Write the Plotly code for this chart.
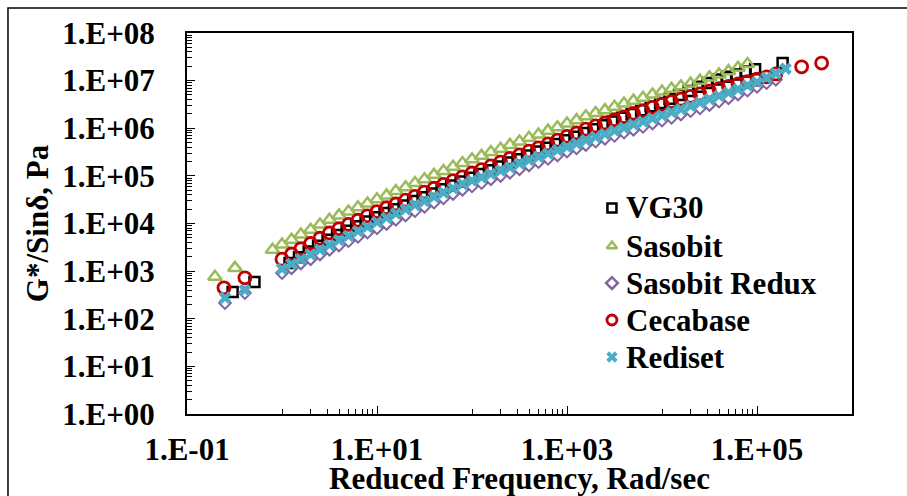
import plotly.graph_objects as go

# ---------------- data ----------------
vg30_x = [0.302, 0.513,
          1.2, 1.51, 1.91, 2.4, 3.02, 3.8, 4.79, 6.03, 7.59, 9.55,
          12.0, 15.1, 19.1, 24.0, 30.2, 38.0, 47.9, 60.3, 75.9, 95.5,
          120, 151, 191, 240, 302, 380, 479, 603, 759, 955,
          1200, 1510, 1910, 2400, 3020, 3800, 4790, 6030, 7590, 9550,
          1.2e4, 1.51e4, 1.91e4, 2.4e4, 3.02e4, 3.8e4, 4.79e4, 6.03e4, 7.59e4, 9.55e4,
          1.86e5]
vg30_y = [363, 589,
          1480, 1950, 2570, 3390, 4570, 5750, 7080, 8710, 11000, 13500,
          16600, 20000, 24000, 29500, 35500, 42700, 52500, 63100, 75900, 91200,
          110000, 132000, 158000, 191000, 224000, 269000, 324000, 389000, 468000, 562000,
          661000, 794000, 955000, 1.15e6, 1.38e6, 1.66e6, 2.0e6, 2.4e6, 2.88e6, 3.39e6,
          4.17e6, 5.01e6, 6.03e6, 7.41e6, 8.91e6, 1.05e7, 1.2e7, 1.35e7, 1.55e7, 1.74e7,
          2.34e7]

sasobit_x = [0.197, 0.32,
             0.794, 1.0, 1.26, 1.58, 2.0, 2.51, 3.16, 3.98, 5.01, 6.31, 7.94,
             10, 12.6, 15.8, 20, 25.1, 31.6, 39.8, 50.1, 63.1, 79.4,
             100, 126, 158, 200, 251, 316, 398, 501, 631, 794,
             1000, 1260, 1580, 2000, 2510, 3160, 3980, 5010, 6310, 7940,
             1e4, 1.26e4, 1.58e4, 2e4, 2.51e4, 3.16e4, 3.98e4, 5.01e4, 6.31e4, 7.94e4]
sasobit_y = [759, 1170,
             2820, 3630, 4570, 5890, 7410, 9550, 12000, 14800, 17800, 21900, 26300,
             32400, 38900, 47900, 57500, 70800, 85100, 105000, 126000, 155000, 186000,
             224000, 263000, 316000, 372000, 447000, 525000, 631000, 741000, 891000, 1.05e6,
             1.26e6, 1.48e6, 1.78e6, 2.09e6, 2.4e6, 2.82e6, 3.31e6, 3.8e6, 4.37e6, 5.13e6,
             5.89e6, 6.76e6, 7.59e6, 8.71e6, 1.0e7, 1.17e7, 1.35e7, 1.58e7, 1.86e7, 2.24e7]

redux_x = [0.251, 0.407,
           1.0, 1.26, 1.58, 2.0, 2.51, 3.16, 3.98, 5.01, 6.31, 7.94,
           10, 12.6, 15.8, 20, 25.1, 31.6, 39.8, 50.1, 63.1, 79.4,
           100, 126, 158, 200, 251, 316, 398, 501, 631, 794,
           1000, 1260, 1580, 2000, 2510, 3160, 3980, 5010, 6310, 7940,
           1e4, 1.26e4, 1.58e4, 2e4, 2.51e4, 3.16e4, 3.98e4, 5.01e4, 6.31e4, 7.94e4,
           1e5, 1.26e5, 1.58e5]
redux_y = [214, 347,
           912, 1150, 1450, 1780, 2240, 2820, 3470, 4270, 5250, 6460,
           7940, 9770, 12000, 14800, 18200, 22400, 27500, 33900, 41700, 51300,
           60300, 70800, 85100, 100000, 117000, 138000, 166000, 195000, 229000, 269000,
           324000, 380000, 447000, 525000, 603000, 692000, 813000, 933000, 1.07e6, 1.26e6,
           1.45e6, 1.66e6, 1.95e6, 2.29e6, 2.63e6, 3.09e6, 3.63e6, 4.27e6, 5.13e6, 6.17e6,
           7.41e6, 8.91e6, 1.05e7]

cecabase_x = [0.245, 0.407,
              1.0, 1.26, 1.58, 2.0, 2.51, 3.16, 3.98, 5.01, 6.31, 7.94,
              10, 12.6, 15.8, 20, 25.1, 31.6, 39.8, 50.1, 63.1, 79.4,
              100, 126, 158, 200, 251, 316, 398, 501, 631, 794,
              1000, 1260, 1580, 2000, 2510, 3160, 3980, 5010, 6310, 7940,
              1e4, 1.26e4, 1.58e4, 2e4, 2.51e4, 3.16e4, 3.98e4, 5.01e4, 6.31e4, 7.94e4,
              1e5, 1.26e5, 1.58e5, 2.95e5, 4.79e5]
cecabase_y = [447, 724,
              1780, 2290, 2950, 3800, 4900, 6310, 7760, 9550, 11700, 14500,
              17800, 21400, 25700, 30900, 37200, 45700, 55000, 66100, 79400, 95500,
              115000, 135000, 162000, 195000, 234000, 275000, 331000, 389000, 468000, 562000,
              676000, 794000, 955000, 1.12e6, 1.29e6, 1.51e6, 1.74e6, 2.04e6, 2.34e6, 2.75e6,
              3.16e6, 3.63e6, 4.07e6, 4.68e6, 5.25e6, 6.03e6, 6.76e6, 7.59e6, 8.51e6, 9.55e6,
              1.07e7, 1.2e7, 1.38e7, 1.95e7, 2.34e7]

rediset_x = [0.251, 0.407,
             1.0, 1.26, 1.58, 2.0, 2.51, 3.16, 3.98, 5.01, 6.31, 7.94,
             10, 12.6, 15.8, 20, 25.1, 31.6, 39.8, 50.1, 63.1, 79.4,
             100, 126, 158, 200, 251, 316, 398, 501, 631, 794,
             1000, 1260, 1580, 2000, 2510, 3160, 3980, 5010, 6310, 7940,
             1e4, 1.26e4, 1.58e4, 2e4, 2.51e4, 3.16e4, 3.98e4, 5.01e4, 6.31e4, 7.94e4,
             1e5, 1.26e5, 1.58e5, 2e5]
rediset_y = [275, 398,
             1120, 1410, 1780, 2240, 2820, 3550, 4470, 5500, 6920, 8510,
             10700, 13200, 16200, 20000, 24500, 29500, 36300, 44700, 55000, 67600,
             79400, 93300, 110000, 129000, 151000, 182000, 214000, 251000, 295000, 347000,
             407000, 479000, 562000, 661000, 759000, 891000, 1.02e6, 1.2e6, 1.38e6, 1.62e6,
             1.86e6, 2.19e6, 2.51e6, 2.95e6, 3.47e6, 4.07e6, 4.79e6, 5.62e6, 6.61e6, 7.94e6,
             9.33e6, 1.15e7, 1.41e7, 1.78e7]

series_names = ["VG30", "Sasobit", "Sasobit Redux", "Cecabase", "Rediset"]

x_tick_vals = [0.1, 10, 1000, 100000]
x_tick_text = ["1.E-01", "1.E+01", "1.E+03", "1.E+05"]
y_tick_vals = [1, 10, 100, 1000, 1e4, 1e5, 1e6, 1e7, 1e8]
y_tick_text = ["1.E+00", "1.E+01", "1.E+02", "1.E+03", "1.E+04",
               "1.E+05", "1.E+06", "1.E+07", "1.E+08"]

# ---------------- styling ----------------
FONT = "Liberation Serif"
styles = [
    dict(symbol="square-open", size=10, color="black", line=dict(width=2.5, color="black")),
    dict(symbol="triangle-up-open", size=12, color="#9BBB59", line=dict(width=2.5, color="#9BBB59")),
    dict(symbol="diamond-open", size=9, color="#8064A2", line=dict(width=2, color="#8064A2")),
    dict(symbol="circle-open", size=12, color="#C00000", line=dict(width=2.8, color="#C00000")),
    dict(symbol="x", size=11, color="#4BACC6", line=dict(width=0)),
]
legend_styles = [
    dict(symbol="square-open", size=9, color="black", line=dict(width=2.5, color="black")),
    dict(symbol="triangle-up-open", size=9, color="#9BBB59", line=dict(width=2.5, color="#9BBB59")),
    dict(symbol="diamond-open", size=9, color="#8064A2", line=dict(width=2.5, color="#8064A2")),
    dict(symbol="circle-open", size=10, color="#C00000", line=dict(width=2.8, color="#C00000")),
    dict(symbol="x", size=10, color="#4BACC6", line=dict(width=0)),
]

fig = go.Figure()
all_x = [vg30_x, sasobit_x, redux_x, cecabase_x, rediset_x]
all_y = [vg30_y, sasobit_y, redux_y, cecabase_y, rediset_y]
for name, xs, ys, mk in zip(series_names, all_x, all_y, styles):
    fig.add_trace(go.Scatter(x=xs, y=ys, mode="markers", name=name, marker=mk,
                             showlegend=False))

# manual legend (fixed row spacing like the original)
leg_rows = [0.5407, 0.4409, 0.3438, 0.2467, 0.1496]
leg_mx = 0.639
leg_tx = 0.657
for name, mk, ry in zip(series_names, legend_styles, leg_rows):
    fig.add_trace(go.Scatter(x=[leg_mx], y=[ry], xaxis="x2", yaxis="y2", mode="markers",
                             marker=mk, showlegend=False, hoverinfo="skip", cliponaxis=False))
annotations = [dict(x=leg_tx, y=ry, xref="paper", yref="paper", text=name, showarrow=False,
                    xanchor="left", yanchor="middle",
                    font=dict(family=FONT, size=31, color="black", weight="bold"))
               for name, ry in zip(series_names, leg_rows)]

x_minor = [k * 10 ** n for n in (0, 2, 4) for k in range(1, 10)]
y_minor = [k * 10 ** n for n in range(0, 8) for k in range(2, 10)]

xaxis_cfg = dict(
    type="log", range=[-1, 6],
    tickmode="array", tickvals=x_tick_vals, ticktext=x_tick_text,
    ticks="inside", ticklen=8, tickwidth=1, tickcolor="black",
    minor=dict(tickvals=x_minor, ticks="inside", ticklen=5, tickwidth=1, tickcolor="black", showgrid=False),
    showline=True, linecolor="black", linewidth=2, mirror=True,
    showgrid=False, zeroline=False,
    tickfont=dict(family=FONT, size=31, weight="bold"),
    ticklabelstandoff=7,
    title=dict(text="Reduced Frequency, Rad/sec", font=dict(family=FONT, size=31, weight="bold"), standoff=14),
    automargin=False,
)
yaxis_cfg = dict(
    type="log", range=[0, 8],
    tickmode="array", tickvals=y_tick_vals, ticktext=y_tick_text,
    ticks="inside", ticklen=8, tickwidth=1, tickcolor="black",
    minor=dict(tickvals=y_minor, ticks="inside", ticklen=5, tickwidth=1, tickcolor="black", showgrid=False),
    showline=True, linecolor="black", linewidth=2, mirror=True,
    showgrid=False, zeroline=False,
    tickfont=dict(family=FONT, size=31, weight="bold"),
    ticklabelstandoff=24,
    title=dict(text="G*/Sinδ, Pa", font=dict(family=FONT, size=31, weight="bold"), standoff=4),
    automargin=False,
)

fig.update_layout(
    width=907, height=496,
    margin=dict(l=187, r=55, t=33, b=82),
    paper_bgcolor="white", plot_bgcolor="white",
    font=dict(family=FONT, size=31, color="black", weight="bold"),
    showlegend=False,
    annotations=annotations,
    shapes=[dict(type="rect", xref="paper", yref="paper",
                 x0=-0.2692, x1=1.09, y0=-0.23, y1=1.0656,
                 line=dict(color="black", width=1.5), fillcolor="rgba(0,0,0,0)", layer="below")],
    xaxis=xaxis_cfg,
    yaxis=yaxis_cfg,
    xaxis2=dict(overlaying="x", range=[0, 1], visible=False, fixedrange=True),
    yaxis2=dict(overlaying="y", range=[0, 1], visible=False, fixedrange=True),
)

fig.write_html("out.html")
